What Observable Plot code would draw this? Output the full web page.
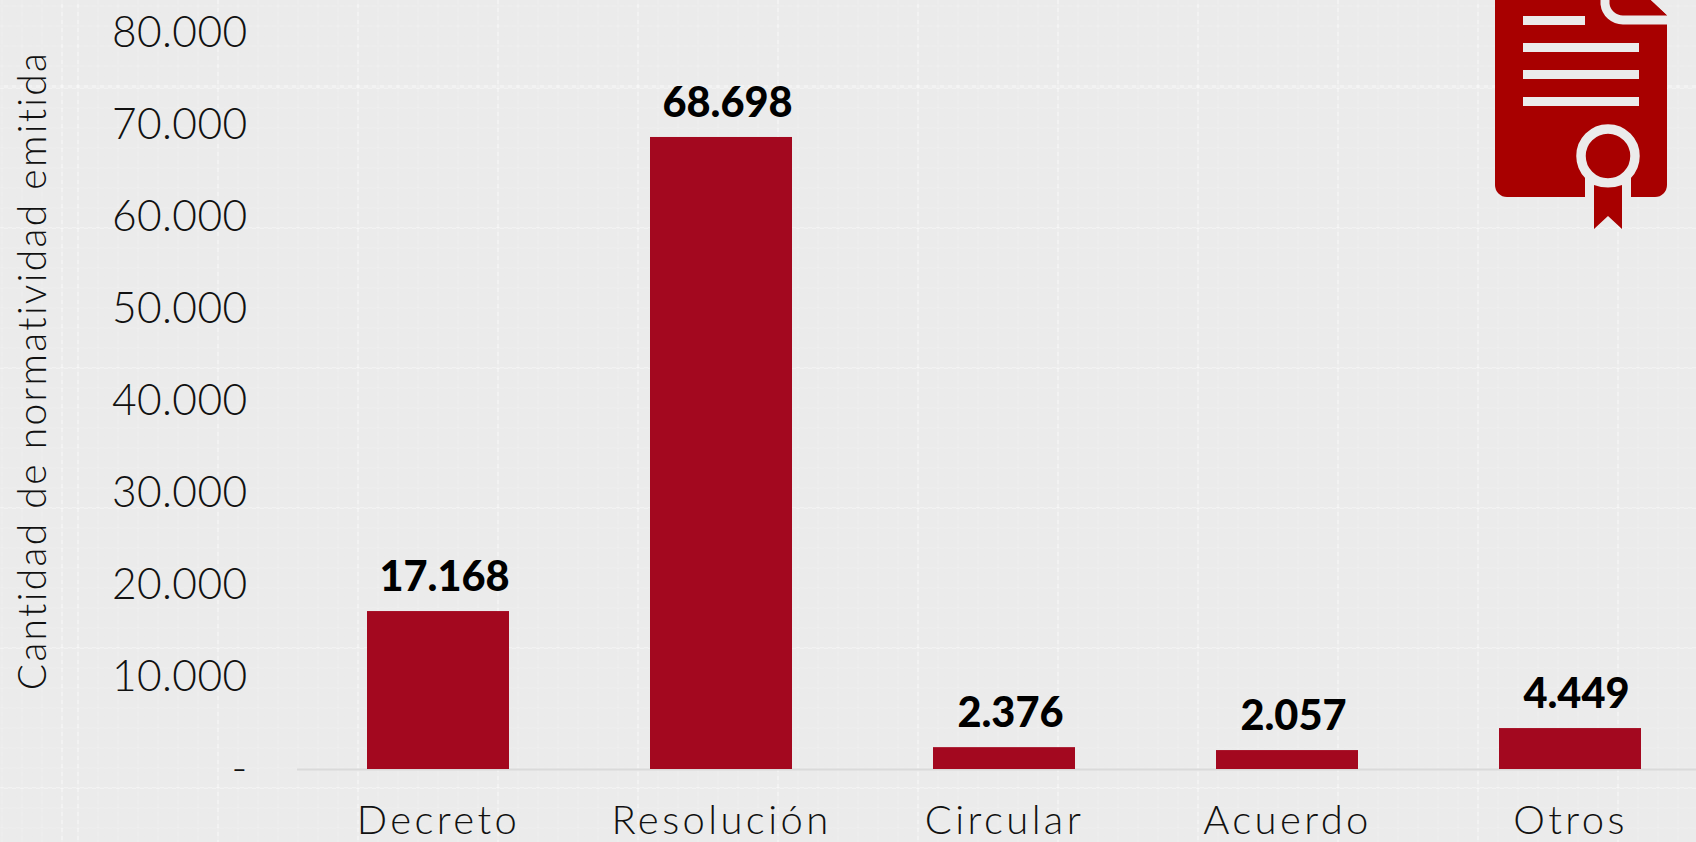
<!DOCTYPE html>
<html lang="es">
<head>
<meta charset="utf-8">
<script src="https://cdn.jsdelivr.net/npm/d3@7"></script>
<script src="https://cdn.jsdelivr.net/npm/@observablehq/plot@0.6"></script>
<style>
html,body{margin:0;padding:0;width:1696px;height:842px;overflow:hidden}
body{background-color:#ebebeb;
background-image:
 conic-gradient(rgba(235,235,235,.7) 25%,transparent 0 50%,rgba(235,235,235,.7) 0 75%,transparent 0),
 repeating-linear-gradient(to right,rgba(255,255,255,.3) 0 2px,transparent 2px 140px),
 repeating-linear-gradient(to bottom,rgba(255,255,255,.3) 0 2px,transparent 2px 140px),
 repeating-linear-gradient(to right,rgba(255,255,255,.12) 0 2px,transparent 2px 20px),
 repeating-linear-gradient(to bottom,rgba(255,255,255,.12) 0 2px,transparent 2px 20px);
background-size:8px 8px,auto,auto,auto,auto;
background-position:0 0,77px 87px,77px 87px,77px 87px,77px 87px;position:relative;font-family:Lato,sans-serif}
#chart{position:absolute;left:0;top:0}
#chart svg{background:transparent;display:block;overflow:hidden}
#icon{position:absolute;left:0;top:0}
g[aria-label="x-axis tick label"]{letter-spacing:3.4px}
g[aria-label="y-axis tick label"]{letter-spacing:.4px}
</style>
</head>
<body>
<div id="chart"></div>
<svg id="icon" width="1696" height="842" viewBox="0 0 1696 842" aria-hidden="true">
  <path d="M1495 -10H1640L1667 15V185a12 12 0 0 1-12 12H1507a12 12 0 0 1-12-12Z" fill="#a80000"/>
  <path d="M1605 -5V4a18 18 0 0 0 18 16H1672" fill="none" stroke="#ebebeb" stroke-width="9"/>
  <path d="M1652 -2L1672 17" fill="none" stroke="#ebebeb" stroke-width="4"/>
  <g fill="#ebebeb">
    <rect x="1523" y="16" width="62" height="9"/>
    <rect x="1523" y="43" width="116" height="9"/>
    <rect x="1523" y="70" width="116" height="9"/>
    <rect x="1523" y="97" width="116" height="9"/>
    <rect x="1585" y="175" width="46" height="24"/>
  </g>
  <circle cx="1608" cy="156" r="27" fill="#a80000" stroke="#ebebeb" stroke-width="9.5"/>
  <path d="M1594 185Q1608 190 1622 185V229L1608 216L1594 229Z" fill="#a80000"/>
</svg>
<script>
const categories = ["Decreto", "Resolución", "Circular", "Acuerdo", "Otros"];
const values = [17168, 68698, 2376, 2057, 4449];
const yTicks = [0, 10000, 20000, 30000, 40000, 50000, 60000, 70000, 80000];
const yTitle = "Cantidad de normatividad emitida";

const dotted = n => n === 0 ? "-" : String(n).replace(/\B(?=(\d{3})+$)/g, ".");
const rows = categories.map((c, i) => ({category: c, value: values[i]}));

const chart = Plot.plot({
  width: 1696,
  height: 842,
  marginTop: 33,
  marginBottom: 73,
  marginLeft: 297,
  marginRight: 0,
  style: {background: "transparent", fontFamily: "Lato, sans-serif", color: "#111"},
  x: {domain: categories, range: [295, 1713], paddingInner: 0.5, paddingOuter: 0.25, align: 0.5},
  y: {domain: [0, 80000], range: [769, 33]},
  marks: [
    Plot.ruleY([0], {stroke: "#dadada", strokeWidth: 2}),
    Plot.barY(rows, {x: "category", y: "value", fill: "#a3081f"}),
    Plot.text(rows, {x: "category", y: "value", text: d => dotted(d.value), dx: 6, dy: -34,
      fontSize: 41.5, fontWeight: 900, fill: "#000"}),
    Plot.axisX({tickSize: 0, tickPadding: 36, fontSize: 40, label: null, fill: "#111", fontWeight: 300}),
    Plot.axisY({ticks: yTicks, tickFormat: dotted, tickSize: 0, tickPadding: 50, fontSize: 42.5,
      fontWeight: 300, fill: "#111", label: null}),
    Plot.text([yTitle], {frameAnchor: "left", textAnchor: "middle", dx: -264, rotate: -90, y: 43370,
      fontSize: 39, fontWeight: 300, fill: "#111", clip: false})
  ]
});
document.getElementById("chart").append(chart);
chart.querySelectorAll("text").forEach(t => {
  if (t.textContent === yTitle) t.style.letterSpacing = "2.3px";
});
</script>
</body>
</html>
